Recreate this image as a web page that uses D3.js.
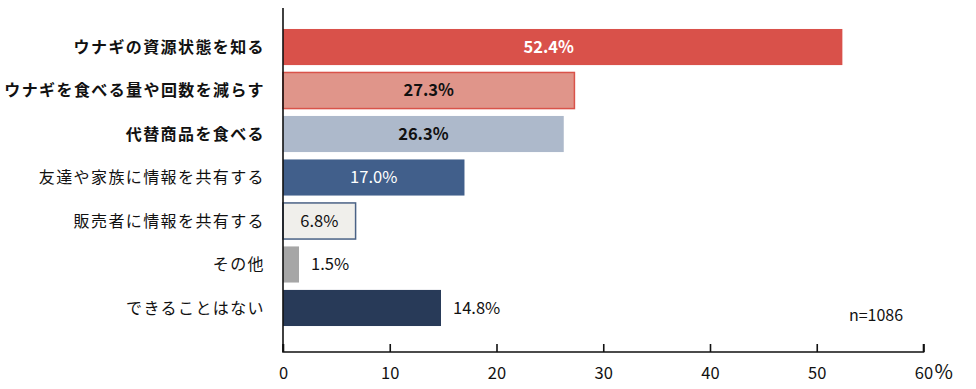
<!DOCTYPE html>
<html><head><meta charset="utf-8">
<script src="https://cdn.jsdelivr.net/npm/d3@7"></script>
<style>
body{margin:0;background:#fff;}
svg{display:block;font-family:"Noto Sans CJK JP","Noto Sans",sans-serif;}
</style></head>
<body><svg id="c" width="976" height="389"></svg>
<script>
const categories = ["ウナギの資源状態を知る","ウナギを食べる量や回数を減らす","代替商品を食べる","友達や家族に情報を共有する","販売者に情報を共有する","その他","できることはない"];
const values = [52.4, 27.3, 26.3, 17.0, 6.8, 1.5, 14.8];
const valueLabels = ["52.4%","27.3%","26.3%","17.0%","6.8%","1.5%","14.8%"];
const xTicks = [0,10,20,30,40,50,60];
const sampleNote = "n=1086";

const fills = ["#d9514a","#e0958a","#adb9cb","#415f8b","#f0efeb","#a6a6a6","#283a58"];
const strokes = ["none","#d9534a","none","none","#4a6285","none","none"];
const emph = [true,true,true,false,false,false,false];
const labelInside = [true,true,true,true,true,false,false];
const labelColor = ["#fff","#111","#111","#fff","#111","#111","#111"];

const svg = d3.select("#c");
const x = d3.scaleLinear().domain([0,60]).range([283,923.5]);
const y = d3.scaleBand().domain(categories).range([25.5,329.5]).paddingInner(0.17).paddingOuter(0.08);
const axisY = 352;

// bars
svg.selectAll("rect.bar").data(values).join("rect")
  .attr("class","bar")
  .attr("x", x(0))
  .attr("y", (d,i)=>y(categories[i]))
  .attr("width", d=>x(d)-x(0))
  .attr("height", y.bandwidth())
  .attr("fill",(d,i)=>fills[i])
  .attr("stroke",(d,i)=>strokes[i])
  .attr("stroke-width",1.5);

// value labels
svg.selectAll("text.val").data(values).join("text")
  .attr("class","val")
  .attr("x",(d,i)=> labelInside[i] ? (x(0)+x(d))/2 - (i===0 ? 14 : 0) : x(d)+12)
  .attr("y",(d,i)=>y(categories[i])+y.bandwidth()/2)
  .attr("dy","0.35em")
  .attr("text-anchor",(d,i)=> labelInside[i] ? "middle" : "start")
  .attr("font-size",16.5)
  .attr("font-weight",(d,i)=>emph[i]?"bold":"normal")
  .attr("fill",(d,i)=>labelColor[i])
  .text((d,i)=>valueLabels[i]);

// category labels
svg.selectAll("text.cat").data(categories).join("text")
  .attr("class","cat")
  .attr("x",265)
  .attr("y",d=>y(d)+y.bandwidth()/2)
  .attr("dy","0.35em")
  .attr("text-anchor","end")
  .attr("font-size",16)
  .attr("letter-spacing",1.4)
  .attr("font-weight",(d,i)=>emph[i]?"bold":"normal")
  .attr("fill","#111")
  .text(d=>d);

// y axis line
svg.append("line").attr("x1",x(0)).attr("x2",x(0)).attr("y1",8).attr("y2",axisY)
  .attr("stroke","#111").attr("stroke-width",1.6);

// x axis
const xAxis = d3.axisBottom(x).tickValues(xTicks).tickSize(-8).tickPadding(15).tickFormat(d3.format("d"));
const gx = svg.append("g").attr("transform",`translate(0,${axisY})`).call(xAxis);
gx.select(".domain").attr("stroke","#111").attr("stroke-width",1.6).attr("d",`M${x(0)},-8V0H${x(60)}V-8`);
gx.selectAll(".tick line").attr("stroke","#111").attr("stroke-width",1.6);
gx.selectAll(".tick text").attr("font-size",16.5).attr("fill","#111")
  .attr("font-family",'"Noto Sans CJK JP","Noto Sans",sans-serif');
// percent unit
svg.append("text").attr("x",x(60)+11).attr("y",axisY+27)
  .attr("font-size",20).attr("fill","#111").attr("text-anchor","start").text("%");

// n note
svg.append("text").attr("x",876).attr("y",315).attr("dy","0.35em")
  .attr("text-anchor","middle").attr("font-size",16).attr("fill","#111").text(sampleNote);
</script></body></html>
